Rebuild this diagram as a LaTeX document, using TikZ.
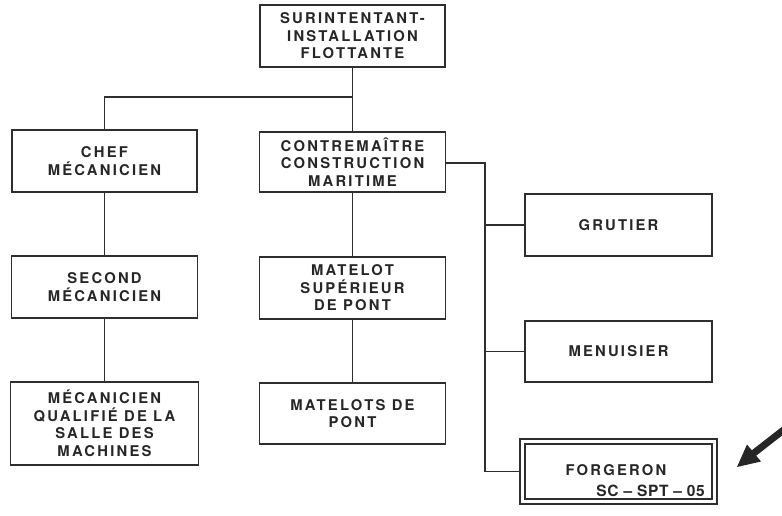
\documentclass[tikz,border=0pt]{standalone}
\usepackage{fontspec}
\setmainfont{TeX Gyre Heros}[LetterSpace=15]
\begin{document}
\begin{tikzpicture}[x=1pt,y=-1pt,
  ink/.style={draw=black!82, line width=1.9pt},
  txt/.style={text=black!85, font=\fontsize{14.8}{17.5}\selectfont\bfseries},
  box/.style={ink, txt, rectangle, align=center, inner sep=0pt},
  link/.style={ink, line cap=rect}]
\useasboundingbox (0,0) rectangle (782,516);

\node[box, minimum width=185, minimum height=62] (top) at (352.5,36) {SURINTENTANT-\\INSTALLATION\\FLOTTANTE};
\node[box, minimum width=185, minimum height=62] (chef) at (104.5,161) {CHEF\\MÉCANICIEN};
\node[box, minimum width=186, minimum height=60] (contre) at (352.5,162) {CONTREMAÎTRE\\CONSTRUCTION\\MARITIME};
\node[box, minimum width=186, minimum height=62] (second) at (104.5,287) {SECOND\\MÉCANICIEN};
\node[box, minimum width=188, minimum height=83] (mq) at (104.5,423.5) {MÉCANICIEN\\QUALIFIÉ DE LA\\SALLE DES\\MACHINES};
\node[box, minimum width=186, minimum height=62] (matsup) at (352.5,288) {MATELOT\\SUPÉRIEUR\\DE PONT};
\node[box, minimum width=186, minimum height=61] (matelots) at (352.5,413.5) {MATELOTS DE\\PONT};
\node[box, minimum width=187, minimum height=62] (grutier) at (618.5,225) {GRUTIER};
\node[box, minimum width=187, minimum height=61] (menuisier) at (618.5,351.5) {MENUISIER};
\node[box, minimum width=187, minimum height=55] (forgeron) at (618.5,471.5) {};
\node[ink, rectangle, minimum width=197, minimum height=65, inner sep=0pt] (forgout) at (618.5,471.5) {};
\node[txt, inner sep=0pt] (ftitle) at (616,470.5) {FORGERON};
\node[txt, font=\fontsize{15.5}{17.5}\selectfont\bfseries, inner sep=0pt, anchor=east] (fcode) at (705,490.5) {\addfontfeatures{LetterSpace=4}SC -- SPT -- 05};

\coordinate (j1) at (352.5,97);
\coordinate (j2) at (485,163);

\draw[link] (top.south) -- (contre.north);
\draw[link] (j1) -| (chef.north);
\draw[link] (chef.south) -- (second.north);
\draw[link] (second.south) -- (mq.north);
\draw[link] (contre.south) -- (matsup.north);
\draw[link] (matsup.south) -- (matelots.north);
\draw[link] (contre.east |- j2) -- (j2) |- (forgout.west);
\draw[link] (j2) |- (grutier.west);
\draw[link] (j2) |- (menuisier.west);

% pointer arrow
\fill[black!85] (787.5,431.3) -- (756.2,455.7) -- (761,461.5) -- (737,467)
  -- (747,444.5) -- (751.8,450.3) -- (783.1,425.9) -- cycle;
\end{tikzpicture}
\end{document}
